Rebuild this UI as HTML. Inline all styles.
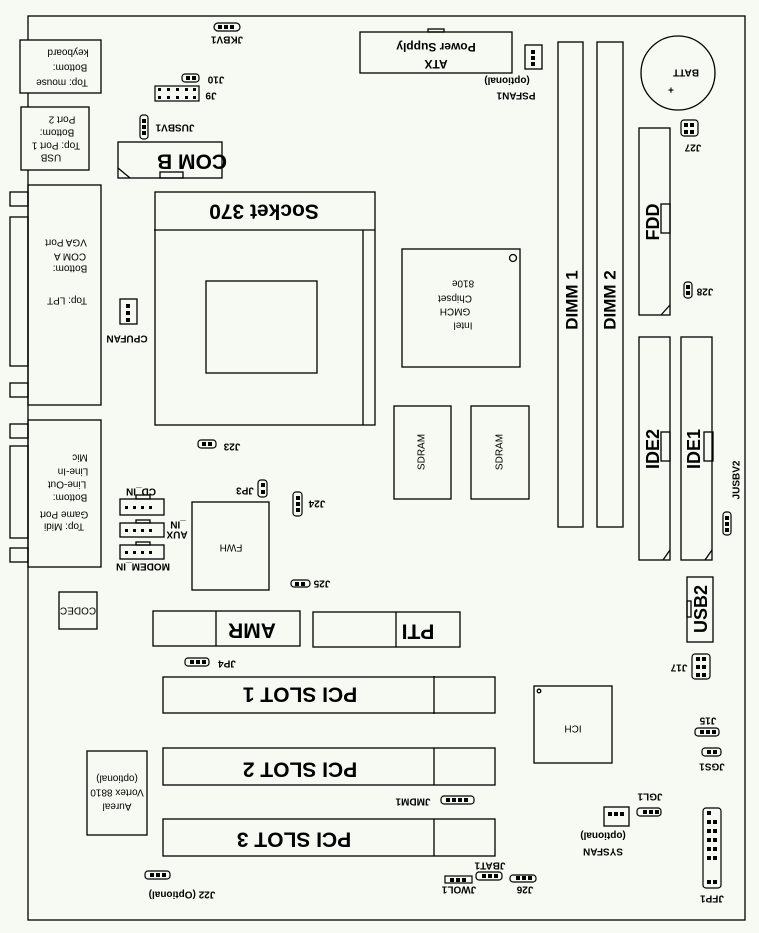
<!DOCTYPE html>
<html><head><meta charset="utf-8"><style>
html,body{margin:0;padding:0;background:#f7faf2;}
svg{display:block;font-family:"Liberation Sans",Arial,sans-serif;}
.s{fill:none;stroke:#000;stroke-width:1.3}
text{fill:#000;font-family:"Liberation Sans",Arial,sans-serif}
.t{font-size:10px}
.b{font-size:10px;font-weight:bold}
.L{font-size:21px;font-weight:bold}
</style></head><body>
<svg width="759" height="933" viewBox="0 0 759 933" xmlns="http://www.w3.org/2000/svg">
<rect width="759" height="933" fill="#f7faf2"/>
<g class="s">
<rect x="28" y="16" width="717" height="904"/>
<rect x="20" y="40" width="81" height="53" fill="#f7faf2"/>
<rect x="21" y="107" width="68" height="63" fill="#f7faf2"/>
<rect x="28" y="185" width="73" height="220"/>
<rect x="10" y="192" width="18" height="14"/>
<rect x="10" y="217" width="18" height="149"/>
<rect x="10" y="383" width="18" height="14"/>
<rect x="28" y="420" width="73" height="147"/>
<rect x="10" y="424" width="18" height="14"/>
<rect x="10" y="446" width="18" height="92"/>
<rect x="10" y="548" width="18" height="14"/>
<rect x="118" y="142" width="104" height="36"/>
<rect x="160" y="172" width="23" height="6"/>
<line x1="118" y1="168" x2="130" y2="178"/>
<rect x="155" y="192" width="220" height="233"/>
<line x1="154" y1="230" x2="375" y2="230"/>
<line x1="363" y1="230" x2="363" y2="425"/>
<rect x="206" y="281" width="111" height="92"/>
<rect x="120" y="299" width="17" height="25"/>
<rect x="192" y="502" width="77" height="88"/>
<rect x="59" y="592" width="38" height="37"/>
<rect x="153" y="611" width="147" height="35"/><line x1="216" y1="611" x2="216" y2="646"/>
<rect x="313" y="612" width="147" height="35"/><line x1="396" y1="612" x2="396" y2="647"/>
<rect x="163" y="677" width="332" height="36"/><line x1="434" y1="676" x2="434" y2="714"/>
<rect x="163" y="748" width="332" height="37"/><line x1="434" y1="748" x2="434" y2="785"/>
<rect x="163" y="819" width="332" height="37"/><line x1="434" y1="819" x2="434" y2="856"/>
<rect x="87" y="751" width="60" height="84"/>
<rect x="534" y="686" width="78" height="77"/>
<circle cx="539" cy="691" r="1.8"/>
<rect x="360" y="32" width="152" height="41"/>
<rect x="428" y="29" width="16" height="3"/>
<rect x="525" y="45" width="17" height="24"/>
<rect x="558" y="42" width="25" height="485"/>
<rect x="597" y="42" width="26" height="485"/>
<circle cx="678" cy="73" r="37"/>
<rect x="639" y="128" width="31" height="187"/>
<rect x="661" y="204" width="9" height="29"/>
<line x1="661" y1="315" x2="670" y2="305"/>
<rect x="402" y="249" width="118" height="118"/>
<circle cx="513" cy="258" r="3.5"/>
<rect x="394" y="406" width="57" height="93"/>
<rect x="471" y="406" width="58" height="93"/>
<rect x="639" y="337" width="31" height="223"/>
<rect x="661" y="432" width="9" height="29"/>
<line x1="663" y1="560" x2="670" y2="550"/>
<rect x="681" y="337" width="31" height="223"/>
<rect x="704" y="432" width="9" height="29"/>
<line x1="705" y1="560" x2="712" y2="550"/>
<rect x="687" y="577" width="26" height="65"/>
<rect x="687" y="601" width="4" height="16"/>
<rect x="120" y="499" width="44" height="16"/><rect x="136" y="495" width="14" height="4"/>
<rect x="120" y="523" width="44" height="14"/><rect x="136" y="520" width="14" height="3"/>
<rect x="120" y="545" width="44" height="14"/><rect x="136" y="542" width="14" height="3"/>
<rect x="604" y="807" width="25" height="19"/>
</g>
<g fill="#000">
<rect x="126" y="304" width="4" height="4"/><rect x="126" y="311" width="4" height="4"/><rect x="126" y="318" width="4" height="4"/>
<rect x="125" y="506" width="3" height="3"/><rect x="133" y="506" width="3" height="3"/><rect x="141" y="506" width="3" height="3"/><rect x="149" y="506" width="3" height="3"/>
<rect x="125" y="529" width="3" height="3"/><rect x="133" y="529" width="3" height="3"/><rect x="141" y="529" width="3" height="3"/><rect x="149" y="529" width="3" height="3"/>
<rect x="125" y="551" width="3" height="3"/><rect x="133" y="551" width="3" height="3"/><rect x="141" y="551" width="3" height="3"/><rect x="149" y="551" width="3" height="3"/>
<rect x="531" y="50" width="4" height="4"/><rect x="531" y="56" width="4" height="4"/><rect x="531" y="62" width="4" height="4"/>
<rect x="608" y="812" width="4" height="4"/><rect x="614" y="812" width="4" height="4"/><rect x="620" y="812" width="4" height="4"/>
</g>
<g stroke="#000" stroke-width="1.2" fill="none">
<rect x="214" y="23" width="26" height="8" rx="4"/>
<rect x="182" y="74" width="17" height="8" rx="3"/>
<rect x="155" y="86" width="44" height="15"/>
<rect x="140" y="115" width="8" height="24" rx="3"/>
<rect x="198" y="440" width="18" height="8" rx="3"/>
<rect x="258" y="480" width="9" height="17" rx="3"/>
<rect x="293" y="492" width="9" height="24" rx="3"/>
<rect x="291" y="580" width="19" height="7" rx="3"/>
<rect x="185" y="658" width="24" height="8" rx="3"/>
<rect x="145" y="871" width="25" height="8" rx="3"/>
<rect x="445" y="876" width="27" height="7"/>
<rect x="476" y="872" width="26" height="8" rx="3"/>
<rect x="510" y="875" width="26" height="7" rx="3"/>
<rect x="441" y="796" width="33" height="8" rx="3"/>
<rect x="692" y="654" width="18" height="25" rx="3"/>
<rect x="695" y="728" width="24" height="8" rx="3"/>
<rect x="702" y="748" width="19" height="8" rx="3"/>
<rect x="637" y="808" width="24" height="8" rx="3"/>
<rect x="703" y="808" width="18" height="80" rx="3"/>
<rect x="681" y="120" width="17" height="16" rx="3"/>
<rect x="684" y="282" width="8" height="16" rx="3"/>
<rect x="723" y="512" width="8" height="23" rx="3"/>
</g>
<g fill="#000">
<rect x="218" y="25" width="4" height="4"/><rect x="224" y="25" width="4" height="4"/><rect x="230" y="25" width="4" height="4"/>
<rect x="186" y="76" width="4" height="4"/><rect x="192" y="76" width="4" height="4"/>
<rect x="158" y="88" width="3" height="3"/><rect x="167" y="88" width="3" height="3"/><rect x="176" y="88" width="3" height="3"/><rect x="185" y="88" width="3" height="3"/><rect x="193" y="88" width="3" height="3"/>
<rect x="158" y="96" width="3" height="3"/><rect x="167" y="96" width="3" height="3"/><rect x="176" y="96" width="3" height="3"/><rect x="185" y="96" width="3" height="3"/><rect x="193" y="96" width="3" height="3"/>
<rect x="142" y="119" width="4" height="4"/><rect x="142" y="125" width="4" height="4"/><rect x="142" y="131" width="4" height="4"/>
<rect x="202" y="442" width="4" height="4"/><rect x="208" y="442" width="4" height="4"/>
<rect x="261" y="483" width="4" height="4"/><rect x="261" y="490" width="4" height="4"/>
<rect x="296" y="496" width="4" height="4"/><rect x="296" y="502" width="4" height="4"/><rect x="296" y="508" width="4" height="4"/>
<rect x="295" y="582" width="4" height="4"/><rect x="301" y="582" width="4" height="4"/>
<rect x="190" y="660" width="4" height="4"/><rect x="196" y="660" width="4" height="4"/><rect x="202" y="660" width="4" height="4"/>
<rect x="150" y="873" width="4" height="4"/><rect x="156" y="873" width="4" height="4"/><rect x="162" y="873" width="4" height="4"/>
<rect x="450" y="878" width="4" height="4"/><rect x="456" y="878" width="4" height="4"/><rect x="462" y="878" width="4" height="4"/>
<rect x="482" y="874" width="4" height="4"/><rect x="488" y="874" width="4" height="4"/><rect x="494" y="874" width="4" height="4"/>
<rect x="516" y="876" width="4" height="4"/><rect x="522" y="876" width="4" height="4"/><rect x="528" y="876" width="4" height="4"/>
<rect x="446" y="798" width="4" height="4"/><rect x="452" y="798" width="4" height="4"/><rect x="458" y="798" width="4" height="4"/><rect x="464" y="798" width="4" height="4"/>
<rect x="696" y="657" width="4" height="4"/><rect x="702" y="657" width="4" height="4"/><rect x="696" y="665" width="4" height="4"/><rect x="702" y="665" width="4" height="4"/><rect x="696" y="673" width="4" height="4"/><rect x="702" y="673" width="4" height="4"/>
<rect x="700" y="730" width="4" height="4"/><rect x="706" y="730" width="4" height="4"/><rect x="712" y="730" width="4" height="4"/>
<rect x="707" y="750" width="4" height="4"/><rect x="713" y="750" width="4" height="4"/>
<rect x="643" y="810" width="4" height="4"/><rect x="649" y="810" width="4" height="4"/><rect x="655" y="810" width="4" height="4"/>
<rect x="707" y="811" width="4" height="4"/>
<rect x="707" y="820" width="4" height="4"/><rect x="713" y="820" width="4" height="4"/>
<rect x="707" y="829" width="4" height="4"/><rect x="713" y="829" width="4" height="4"/>
<rect x="707" y="838" width="4" height="4"/><rect x="713" y="838" width="4" height="4"/>
<rect x="707" y="847" width="4" height="4"/><rect x="713" y="847" width="4" height="4"/>
<rect x="707" y="856" width="4" height="4"/><rect x="713" y="856" width="4" height="4"/>
<rect x="707" y="880" width="4" height="4"/><rect x="713" y="880" width="4" height="4"/>
<rect x="684" y="123" width="4" height="4"/><rect x="690" y="123" width="4" height="4"/><rect x="684" y="130" width="4" height="4"/><rect x="690" y="130" width="4" height="4"/>
<rect x="686" y="285" width="4" height="4"/><rect x="686" y="291" width="4" height="4"/>
<rect x="725" y="516" width="4" height="4"/><rect x="725" y="522" width="4" height="4"/><rect x="725" y="528" width="4" height="4"/>
</g>
<g text-anchor="middle" dominant-baseline="central">
<text class="t" x="62" y="82" transform="rotate(180 62 82)">Top: mouse</text>
<text class="t" x="70" y="67" transform="rotate(180 70 67)">Bottom:</text>
<text class="t" x="68" y="52" transform="rotate(180 68 52)">keyboard</text>
<text class="t" x="51" y="157" transform="rotate(180 51 157)">USB</text>
<text class="t" x="56" y="145" transform="rotate(180 56 145)">Top: Port 1</text>
<text class="t" x="57" y="132" transform="rotate(180 57 132)">Bottom:</text>
<text class="t" x="62" y="119" transform="rotate(180 62 119)">Port 2</text>
<text class="t" x="67" y="300" transform="rotate(180 67 300)">Top: LPT</text>
<text class="t" x="70" y="268" transform="rotate(180 70 268)">Bottom:</text>
<text class="t" x="70" y="256" transform="rotate(180 70 256)">COM A</text>
<text class="t" x="66" y="242" transform="rotate(180 66 242)">VGA Port</text>
<text class="t" x="64" y="526" transform="rotate(180 64 526)">Top: Midi</text>
<text class="t" x="64" y="514" transform="rotate(180 64 514)">Game Port</text>
<text class="t" x="70" y="497" transform="rotate(180 70 497)">Bottom:</text>
<text class="t" x="67" y="484" transform="rotate(180 67 484)">Line-Out</text>
<text class="t" x="73" y="471" transform="rotate(180 73 471)">Line-In</text>
<text class="t" x="80" y="457" transform="rotate(180 80 457)">Mic</text>
<text class="b" x="227" y="39" transform="rotate(180 227 39)">JKBV1</text>
<text class="b" x="216" y="79" transform="rotate(180 216 79)">J10</text>
<text class="b" x="211" y="95" transform="rotate(180 211 95)">J9</text>
<text class="b" x="175" y="127" transform="rotate(180 175 127)">JUSBV1</text>
<text class="L" x="192" y="161" transform="rotate(180 192 161)">COM B</text>
<text class="L" x="264" y="211" transform="rotate(180 264 211)">Socket 370</text>
<text class="b" x="127" y="338" transform="rotate(180 127 338)">CPUFAN</text>
<text class="b" x="232" y="446" transform="rotate(180 232 446)">J23</text>
<text class="b" x="245" y="490" transform="rotate(180 245 490)">JP3</text>
<text class="b" x="317" y="503" transform="rotate(180 317 503)">J24</text>
<text class="t" x="231" y="547" transform="rotate(180 231 547)">FWH</text>
<text class="b" x="141" y="491" transform="rotate(180 141 491)">CD_IN</text>
<text class="b" x="177" y="534" transform="rotate(180 177 534)">AUX</text>
<text class="b" x="178" y="524" transform="rotate(180 178 524)">_IN</text>
<text class="b" x="143" y="566" transform="rotate(180 143 566)">MODEM_IN</text>
<text class="b" x="322" y="583" transform="rotate(180 322 583)">J25</text>
<text class="t" x="78" y="610" transform="rotate(180 78 610)">CODEC</text>
<text class="L" x="252" y="630" transform="rotate(180 252 630)">AMR</text>
<text class="L" x="418" y="631" transform="rotate(180 418 631)">PTI</text>
<text class="b" x="227" y="663" transform="rotate(180 227 663)">JP4</text>
<text class="L" x="300" y="694" transform="rotate(180 300 694)">PCI SLOT 1</text>
<text class="L" x="300" y="769" transform="rotate(180 300 769)">PCI SLOT 2</text>
<text class="L" x="294" y="839" transform="rotate(180 294 839)">PCI SLOT 3</text>
<text class="t" x="117" y="806" transform="rotate(180 117 806)">Aureal</text>
<text class="t" x="117" y="792" transform="rotate(180 117 792)">Vortex 8810</text>
<text class="t" x="117" y="778" transform="rotate(180 117 778)">(optional)</text>
<text class="b" x="182" y="894" transform="rotate(180 182 894)">J22 (Optional)</text>
<text class="b" x="459" y="889" transform="rotate(180 459 889)">JWOL1</text>
<text class="b" x="490" y="865" transform="rotate(180 490 865)">JBAT1</text>
<text class="b" x="525" y="889" transform="rotate(180 525 889)">J26</text>
<text class="b" x="413" y="801" transform="rotate(180 413 801)">JMDM1</text>
<text class="t" x="573" y="728" transform="rotate(180 573 728)">ICH</text>
<text class="b" x="679" y="667" transform="rotate(180 679 667)">J17</text>
<text class="b" x="708" y="720" transform="rotate(180 708 720)">J15</text>
<text class="b" x="712" y="766" transform="rotate(180 712 766)">JGS1</text>
<text class="b" x="650" y="796" transform="rotate(180 650 796)">JGL1</text>
<text class="b" x="603" y="851" transform="rotate(180 603 851)">SYSFAN</text>
<text class="b" x="603" y="835" transform="rotate(180 603 835)">(optional)</text>
<text class="b" x="712" y="898" transform="rotate(180 712 898)">JFP1</text>
<text style="font-size:12px;font-weight:bold" x="436" y="47" transform="rotate(180 436 47)">Power Supply</text>
<text style="font-size:12px;font-weight:bold" x="436" y="64" transform="rotate(180 436 64)">ATX</text>
<text class="b" x="516" y="95" transform="rotate(180 516 95)">PSFAN1</text>
<text class="b" x="507" y="80" transform="rotate(180 507 80)">(optional)</text>
<text class="b" x="686" y="72" transform="rotate(180 686 72)">BATT</text>
<text class="b" x="671" y="89" transform="rotate(180 671 89)">+</text>
<text class="b" x="693" y="147" transform="rotate(180 693 147)">J27</text>
<text class="b" x="705" y="291" transform="rotate(180 705 291)">J28</text>
<text class="t" x="463" y="325" transform="rotate(180 463 325)">Intel</text>
<text class="t" x="455" y="311" transform="rotate(180 455 311)">GMCH</text>
<text class="t" x="455" y="298" transform="rotate(180 455 298)">Chipset</text>
<text class="t" x="463" y="283" transform="rotate(180 463 283)">810e</text>
</g>
<g text-anchor="middle" dominant-baseline="central" font-weight="bold">
<text font-size="17" x="572" y="300" transform="rotate(-90 572 300)">DIMM 1</text>
<text font-size="17" x="610" y="300" transform="rotate(-90 610 300)">DIMM 2</text>
<text font-size="18" x="653" y="222" transform="rotate(-90 653 222)">FDD</text>
<text font-size="18" x="653" y="449" transform="rotate(-90 653 449)">IDE2</text>
<text font-size="18" x="694" y="449" transform="rotate(-90 694 449)">IDE1</text>
<text font-size="18" x="701" y="609" transform="rotate(-90 701 609)">USB2</text>
<text font-size="10" x="737" y="480" transform="rotate(-90 737 480)">JUSBV2</text>
<text font-size="10" font-weight="normal" x="422" y="452" transform="rotate(-90 422 452)">SDRAM</text>
<text font-size="10" font-weight="normal" x="500" y="452" transform="rotate(-90 500 452)">SDRAM</text>
</g>
</svg>
</body></html>
